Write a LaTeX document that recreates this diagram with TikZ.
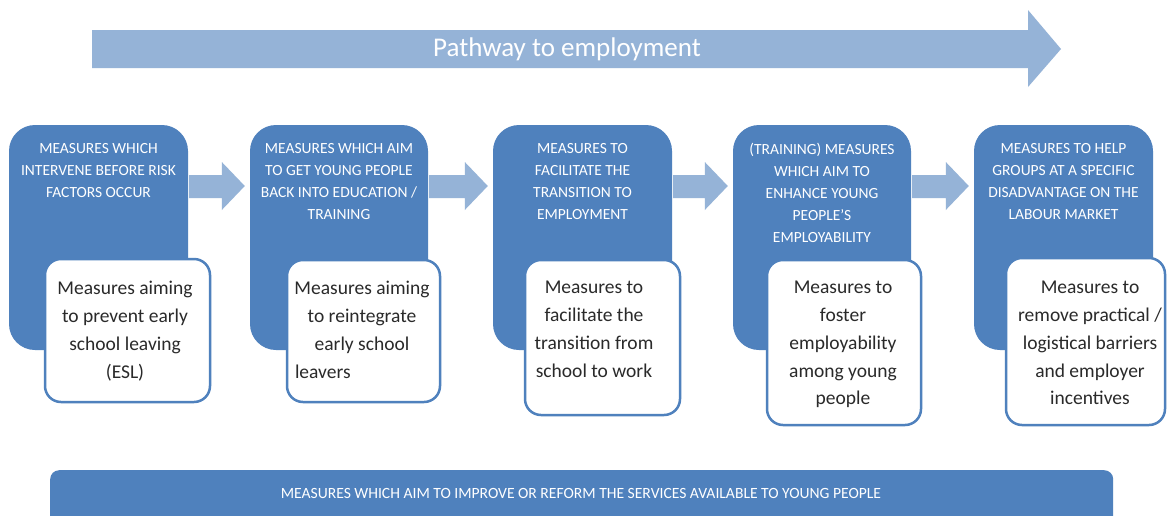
\documentclass[tikz,border=0pt]{standalone}
\usepackage{fontspec}
\setmainfont{Carlito}
\usetikzlibrary{calc}
\definecolor{boxblue}{HTML}{4F81BD}
\definecolor{arrblue}{HTML}{95B3D7}
\definecolor{bodygray}{HTML}{2A2A2A}
\newcommand\blockarr[2]{%
  \fill[arrfill] let \p1=(#1.east), \p2=(#2.west) in
    ({\x1+1pt},-175pt) -- ({\x2-28pt},-175pt) -- ({\x2-28pt},-162pt) --
    ({\x2-5pt},-186pt) -- ({\x2-28pt},-210pt) -- ({\x2-28pt},-198pt) --
    ({\x1+1pt},-198pt) -- cycle;}
\begin{document}
\begin{tikzpicture}[x=1pt,y=-1pt,
  bluebox/.style={fill=boxblue, rounded corners=26pt, inner sep=0pt},
  whitebox/.style={fill=white, draw=boxblue, line width=2.5pt, rounded corners=16pt, inner sep=0pt},
  captext/.style={text=white, font=\fontsize{15.5}{22}\selectfont, align=center, inner sep=0pt, anchor=north},
  bodytext/.style={text=bodygray, font=\fontsize{19.5}{27.8}\selectfont, align=center, inner sep=0pt, anchor=north},
  arrfill/.style={fill=arrblue},
  bartext/.style={text=white, font=\fontsize{15.6}{18}\selectfont, inner sep=0pt}]
\clip (0,0) rectangle (1168,515);
\fill[white] (0,0) rectangle (1168,515);

% top pathway arrow
\fill[arrfill] (92,30) -- (1028,30) -- (1028,10) -- (1061,49) -- (1028,87) -- (1028,68) -- (92,68) -- cycle;
\node[text=white, font=\fontsize{27}{30}\selectfont, inner sep=0pt] (title) at (567,49) {Pathway to employment};

% blue boxes
\node[bluebox, minimum width=179pt, minimum height=225pt] (b1) at (98.5,237.5) {};
\node[bluebox, minimum width=178pt, minimum height=225pt] (b2) at (339,237.5) {};
\node[bluebox, minimum width=179pt, minimum height=225pt] (b3) at (582.5,237.5) {};
\node[bluebox, minimum width=178pt, minimum height=225pt] (b4) at (822,237.5) {};
\node[bluebox, minimum width=179pt, minimum height=225pt] (b5) at (1063.5,237.5) {};

\node[captext] (c1) at (98.5,143) {MEASURES WHICH\\INTERVENE BEFORE RISK\\FACTORS OCCUR};
\node[captext] (c2) at (339,143) {MEASURES WHICH AIM\\TO GET YOUNG PEOPLE\\BACK INTO EDUCATION /\\TRAINING};
\node[captext] (c3) at (582.5,143) {MEASURES TO\\FACILITATE THE\\TRANSITION TO\\EMPLOYMENT};
\node[captext] (c4) at (822,143) {(TRAINING) MEASURES\\WHICH AIM TO\\ENHANCE YOUNG\\PEOPLE'S\\EMPLOYABILITY};
\node[captext] (c5) at (1063.5,143) {MEASURES TO HELP\\GROUPS AT A SPECIFIC\\DISADVANTAGE ON THE\\LABOUR MARKET};

% arrows between boxes
\blockarr{b1}{b2}
\blockarr{b2}{b3}
\blockarr{b3}{b4}
\blockarr{b4}{b5}

% white boxes
\node[whitebox, minimum width=165pt, minimum height=143pt] (w1) at (127.5,330.5) {};
\node[whitebox, minimum width=153pt, minimum height=142pt] (w2) at (363.5,331) {};
\node[whitebox, minimum width=155pt, minimum height=155pt] (w3) at (602.5,337.5) {};
\node[whitebox, minimum width=154pt, minimum height=165pt] (w4) at (844,342.5) {};
\node[whitebox, minimum width=159pt, minimum height=167pt] (w5) at (1085.5,341.5) {};

\node[bodytext] (d1) at (125,281) {Measures aiming\\to prevent early\\school leaving\\(ESL)};
\node[bodytext] (d2) at (362,281) {Measures aiming\\to reintegrate\\early school\\\makebox[134pt][l]{leavers}};
\node[bodytext] (d3) at (594,281) {Measures to\\facilitate the\\transition from\\school to work};
\node[bodytext] (d4) at (843,281) {Measures to\\foster\\employability\\among young\\people};
\node[bodytext] (d5) at (1090,281) {Measures to\\remove practical /\\logistical barriers\\and employer\\incentives};

% bottom bar
\node[fill=boxblue, rounded corners=9pt, minimum width=1063pt, minimum height=80pt, inner sep=0pt, anchor=north west] (bar) at (50,470) {};
\node[bartext] (bt) at (581,493) {MEASURES WHICH AIM TO IMPROVE OR REFORM THE SERVICES AVAILABLE TO YOUNG PEOPLE};
\end{tikzpicture}
\end{document}
